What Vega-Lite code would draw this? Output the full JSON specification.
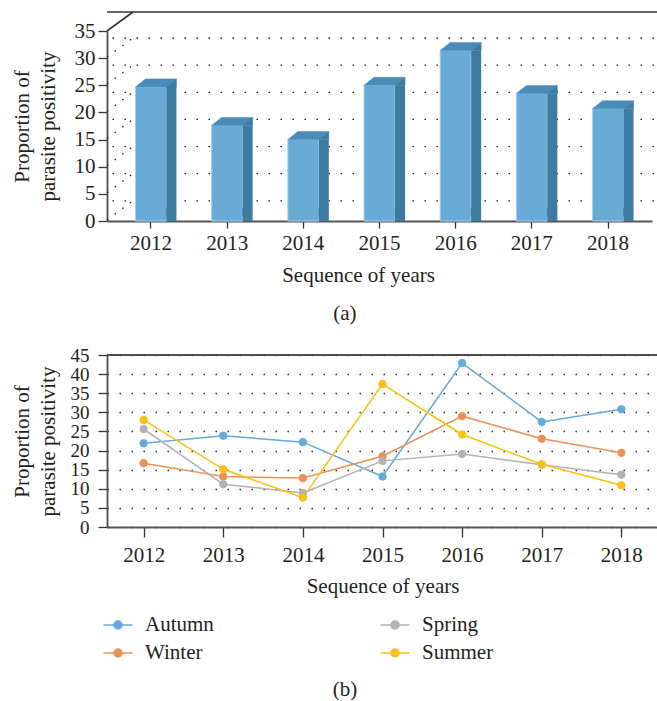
{
  "$schema": "https://vega.github.io/schema/vega-lite/v6.json",
  "padding": {"left": 11, "top": 8, "right": 0, "bottom": 0},
  "title": {"text": "(b)", "orient": "bottom", "frame": "bounds", "anchor": "middle", "offset": 16, "font": "Liberation Serif", "fontSize": 21, "fontWeight": "normal", "color": "#231f20"},
  "datasets": {
    "bars": [
      {"year": "2012", "value": 24.7},
      {"year": "2013", "value": 17.6},
      {"year": "2014", "value": 15.0},
      {"year": "2015", "value": 25.0},
      {"year": "2016", "value": 31.4},
      {"year": "2017", "value": 23.5},
      {"year": "2018", "value": 20.7}
    ],
    "grid": [{"value": 5}, {"value": 10}, {"value": 15}, {"value": 20}, {"value": 25}, {"value": 30}, {"value": 35}],
    "frame": [{"year": "2012", "value": 35}],
    "floor": [
      {"year": "2012", "value": 0}, {"year": "2013", "value": 0}, {"year": "2014", "value": 0},
      {"year": "2015", "value": 0}, {"year": "2016", "value": 0}, {"year": "2017", "value": 0}, {"year": "2018", "value": 0}
    ],
    "border": [{"value": 45}],
    "lines": [
      {"year": "2012", "season": "Autumn", "value": 21.9},
      {"year": "2013", "season": "Autumn", "value": 23.9},
      {"year": "2014", "season": "Autumn", "value": 22.2},
      {"year": "2015", "season": "Autumn", "value": 13.2},
      {"year": "2016", "season": "Autumn", "value": 42.9},
      {"year": "2017", "season": "Autumn", "value": 27.5},
      {"year": "2018", "season": "Autumn", "value": 30.8},
      {"year": "2012", "season": "Winter", "value": 16.7},
      {"year": "2013", "season": "Winter", "value": 13.2},
      {"year": "2014", "season": "Winter", "value": 12.8},
      {"year": "2015", "season": "Winter", "value": 18.5},
      {"year": "2016", "season": "Winter", "value": 29.0},
      {"year": "2017", "season": "Winter", "value": 23.1},
      {"year": "2018", "season": "Winter", "value": 19.4},
      {"year": "2012", "season": "Spring", "value": 25.6},
      {"year": "2013", "season": "Spring", "value": 11.2},
      {"year": "2014", "season": "Spring", "value": 8.9},
      {"year": "2015", "season": "Spring", "value": 17.3},
      {"year": "2016", "season": "Spring", "value": 19.1},
      {"year": "2017", "season": "Spring", "value": 16.3},
      {"year": "2018", "season": "Spring", "value": 13.7},
      {"year": "2012", "season": "Summer", "value": 28.0},
      {"year": "2013", "season": "Summer", "value": 15.1},
      {"year": "2014", "season": "Summer", "value": 7.7},
      {"year": "2015", "season": "Summer", "value": 37.4},
      {"year": "2016", "season": "Summer", "value": 24.2},
      {"year": "2017", "season": "Summer", "value": 16.4},
      {"year": "2018", "season": "Summer", "value": 10.9}
    ]
  },
  "config": {
    "font": "Liberation Serif",
    "view": {"stroke": null},
    "axis": {
      "labelFont": "Liberation Serif",
      "titleFont": "Liberation Serif",
      "labelFontSize": 21,
      "titleFontSize": 21,
      "titleFontWeight": "normal",
      "labelColor": "#231f20",
      "titleColor": "#231f20",
      "domainColor": "#4d4d4d",
      "domainWidth": 1.8,
      "tickColor": "#333333",
      "tickWidth": 1.3,
      "labelOverlap": false
    },
    "legend": {
      "labelFont": "Liberation Serif",
      "labelFontSize": 21,
      "labelColor": "#231f20"
    },
    "title": {
      "font": "Liberation Serif",
      "fontSize": 21,
      "fontWeight": "normal",
      "color": "#231f20"
    }
  },
  "spacing": 22,
  "resolve": {
    "scale": {"fill": "independent", "stroke": "independent"},
    "legend": {"fill": "independent", "stroke": "independent"}
  },
  "vconcat": [
    {
      "width": 545,
      "height": 190,
      "title": {"text": "(a)", "orient": "bottom", "frame": "bounds", "anchor": "middle", "offset": 18},
      "layer": [
        {
          "data": {"name": "grid"},
          "mark": {"type": "rule", "strokeDash": [1.5, 10.5], "color": "#222222", "strokeWidth": 1.3, "xOffset": 26, "yOffset": 7},
          "encoding": {
            "y": {"field": "value", "type": "quantitative", "scale": {"domain": [0, 35], "nice": false},
              "axis": {"title": ["Proportion of", "parasite positivity"], "values": [0, 5, 10, 15, 20, 25, 30, 35], "tickSize": 9, "labelPadding": 3, "titlePadding": 16, "titleLineHeight": 26, "grid": false}}
          }
        },
        {
          "data": {"name": "grid"},
          "mark": {"type": "point", "shape": "M-44,26L-18,7", "size": 4, "filled": false, "stroke": "#222222", "strokeWidth": 1.3, "strokeDash": [1.5, 8], "opacity": 1},
          "encoding": {
            "x": {"datum": "2012", "type": "ordinal",
              "scale": {"domain": ["2012", "2013", "2014", "2015", "2016", "2017", "2018"], "paddingInner": 0, "paddingOuter": 0.077},
              "axis": {"title": "Sequence of years", "titleX": 251, "labelAngle": 0, "labelAlign": "center", "bandPosition": 0.5, "tickSize": 7, "labelPadding": 4, "titlePadding": 11, "domainColor": "#555555", "domainWidth": 2}},
            "y": {"field": "value", "type": "quantitative",
              "axis": {"title": ["Proportion of", "parasite positivity"], "values": [0, 5, 10, 15, 20, 25, 30, 35], "tickSize": 9, "labelPadding": 3, "titlePadding": 16, "titleLineHeight": 26, "grid": false}}
          }
        },
        {
          "data": {"name": "frame"},
          "mark": {"type": "rule", "color": "#333333", "strokeWidth": 1.6, "xOffset": 26, "yOffset": -19},
          "encoding": {
            "y": {"field": "value", "type": "quantitative",
              "axis": {"title": ["Proportion of", "parasite positivity"], "values": [0, 5, 10, 15, 20, 25, 30, 35], "tickSize": 9, "labelPadding": 3, "titlePadding": 16, "titleLineHeight": 26, "grid": false}}
          }
        },
        {
          "data": {"name": "frame"},
          "mark": {"type": "point", "shape": "M-44,0L-18,-19", "size": 4, "filled": false, "stroke": "#333333", "strokeWidth": 1.6, "opacity": 1},
          "encoding": {
            "x": {"field": "year", "type": "ordinal",
              "axis": {"title": "Sequence of years", "titleX": 251, "labelAngle": 0, "labelAlign": "center", "bandPosition": 0.5, "tickSize": 7, "labelPadding": 4, "titlePadding": 11, "domainColor": "#555555", "domainWidth": 2}},
            "y": {"field": "value", "type": "quantitative",
              "axis": {"title": ["Proportion of", "parasite positivity"], "values": [0, 5, 10, 15, 20, 25, 30, 35], "tickSize": 9, "labelPadding": 3, "titlePadding": 16, "titleLineHeight": 26, "grid": false}}
          }
        },
        {
          "data": {"name": "bars"},
          "mark": {"type": "bar", "width": 31, "color": "#69aad6", "stroke": "#a9d2ee", "strokeWidth": 1, "y2Offset": -5},
          "encoding": {
            "x": {"field": "year", "type": "ordinal",
              "axis": {"title": "Sequence of years", "titleX": 251, "labelAngle": 0, "labelAlign": "center", "bandPosition": 0.5, "tickSize": 7, "labelPadding": 4, "titlePadding": 11, "domainColor": "#555555", "domainWidth": 2}},
            "y": {"field": "value", "type": "quantitative",
              "axis": {"title": ["Proportion of", "parasite positivity"], "values": [0, 5, 10, 15, 20, 25, 30, 35], "tickSize": 9, "labelPadding": 3, "titlePadding": 16, "titleLineHeight": 26, "grid": false}}
          }
        },
        {
          "data": {"name": "bars"},
          "mark": {"type": "bar", "width": 10, "xOffset": 20.5, "color": "#3e7ba0", "y2Offset": -13},
          "encoding": {
            "x": {"field": "year", "type": "ordinal",
              "axis": {"title": "Sequence of years", "titleX": 251, "labelAngle": 0, "labelAlign": "center", "bandPosition": 0.5, "tickSize": 7, "labelPadding": 4, "titlePadding": 11, "domainColor": "#555555", "domainWidth": 2}},
            "y": {"field": "value", "type": "quantitative",
              "axis": {"title": ["Proportion of", "parasite positivity"], "values": [0, 5, 10, 15, 20, 25, 30, 35], "tickSize": 9, "labelPadding": 3, "titlePadding": 16, "titleLineHeight": 26, "grid": false}}
          }
        },
        {
          "data": {"name": "bars"},
          "mark": {"type": "point", "shape": "M-15.5,0L15.5,0L25.5,-8L-5.5,-8Z", "size": 4, "filled": true, "color": "#4a8cb9", "stroke": "#4a8cb9", "strokeWidth": 0.5, "opacity": 1},
          "encoding": {
            "x": {"field": "year", "type": "ordinal",
              "axis": {"title": "Sequence of years", "titleX": 251, "labelAngle": 0, "labelAlign": "center", "bandPosition": 0.5, "tickSize": 7, "labelPadding": 4, "titlePadding": 11, "domainColor": "#555555", "domainWidth": 2}},
            "y": {"field": "value", "type": "quantitative",
              "axis": {"title": ["Proportion of", "parasite positivity"], "values": [0, 5, 10, 15, 20, 25, 30, 35], "tickSize": 9, "labelPadding": 3, "titlePadding": 16, "titleLineHeight": 26, "grid": false}}
          }
        },
        {
          "data": {"name": "bars"},
          "mark": {"type": "point", "shape": "M15.5,0L25.5,-8L25.5,0Z", "size": 4, "filled": true, "color": "#3e7ba0", "stroke": "#3e7ba0", "strokeWidth": 0.5, "opacity": 1},
          "encoding": {
            "x": {"field": "year", "type": "ordinal",
              "axis": {"title": "Sequence of years", "titleX": 251, "labelAngle": 0, "labelAlign": "center", "bandPosition": 0.5, "tickSize": 7, "labelPadding": 4, "titlePadding": 11, "domainColor": "#555555", "domainWidth": 2}},
            "y": {"field": "value", "type": "quantitative",
              "axis": {"title": ["Proportion of", "parasite positivity"], "values": [0, 5, 10, 15, 20, 25, 30, 35], "tickSize": 9, "labelPadding": 3, "titlePadding": 16, "titleLineHeight": 26, "grid": false}}
          }
        },
        {
          "data": {"name": "floor"},
          "mark": {"type": "point", "shape": "M15.5,-8L15.5,0L25.5,-8Z", "size": 4, "filled": true, "color": "#3e7ba0", "stroke": "#3e7ba0", "strokeWidth": 0.5, "opacity": 1, "yOffset": -5},
          "encoding": {
            "x": {"field": "year", "type": "ordinal",
              "axis": {"title": "Sequence of years", "titleX": 251, "labelAngle": 0, "labelAlign": "center", "bandPosition": 0.5, "tickSize": 7, "labelPadding": 4, "titlePadding": 11, "domainColor": "#555555", "domainWidth": 2}},
            "y": {"field": "value", "type": "quantitative",
              "axis": {"title": ["Proportion of", "parasite positivity"], "values": [0, 5, 10, 15, 20, 25, 30, 35], "tickSize": 9, "labelPadding": 3, "titlePadding": 16, "titleLineHeight": 26, "grid": false}}
          }
        }
      ]
    },
    {
      "width": 551,
      "height": 172,
      "layer": [
        {
          "data": {"name": "lines"},
          "mark": {"type": "line", "strokeWidth": 1.5},
          "encoding": {
            "x": {"field": "year", "type": "ordinal",
              "scale": {"type": "point", "padding": 0.46},
              "axis": {"title": "Sequence of years", "labelAngle": 0, "labelAlign": "center", "tickSize": 10, "labelPadding": 7, "titlePadding": 10, "domainColor": "#555555", "domainWidth": 2}},
            "y": {"field": "value", "type": "quantitative",
              "scale": {"domain": [0, 45], "nice": false},
              "axis": {"title": ["Proportion of", "parasite positivity"], "values": [0, 5, 10, 15, 20, 25, 30, 35, 40, 45], "labelFontSize": 19, "tickSize": 9, "labelPadding": 9, "titlePadding": 12, "titleLineHeight": 26, "grid": true, "gridDash": [1.5, 10.5], "gridColor": "#333333", "gridWidth": 1.3}},
            "stroke": {"field": "season", "type": "nominal",
              "scale": {"domain": ["Autumn", "Spring", "Winter", "Summer"], "range": ["#64aadc", "#b2b2b6", "#ec9155", "#fac014"]},
              "legend": {"title": null, "orient": "bottom", "columns": 2, "columnPadding": 163, "rowPadding": 7, "symbolType": "M-1.45,0L1.45,0M-0.4,0A0.4,0.4,0,1,1,0.4,0A0.4,0.4,0,1,1,-0.4,0", "symbolSize": 400, "symbolStrokeWidth": 1.5, "labelOffset": 16, "offset": 18}}
          }
        },
        {
          "data": {"name": "lines"},
          "mark": {"type": "point", "filled": true, "size": 55, "opacity": 1, "strokeWidth": 1},
          "encoding": {
            "x": {"field": "year", "type": "ordinal",
              "axis": {"title": "Sequence of years", "labelAngle": 0, "labelAlign": "center", "tickSize": 10, "labelPadding": 7, "titlePadding": 10, "domainColor": "#555555", "domainWidth": 2}},
            "y": {"field": "value", "type": "quantitative",
              "axis": {"title": ["Proportion of", "parasite positivity"], "values": [0, 5, 10, 15, 20, 25, 30, 35, 40, 45], "labelFontSize": 19, "tickSize": 9, "labelPadding": 9, "titlePadding": 12, "titleLineHeight": 26, "grid": true, "gridDash": [1.5, 10.5], "gridColor": "#333333", "gridWidth": 1.3}},
            "fill": {"field": "season", "type": "nominal",
              "scale": {"domain": ["Autumn", "Spring", "Winter", "Summer"], "range": ["#64aadc", "#b2b2b6", "#ec9155", "#fac014"]},
              "legend": {"title": null, "orient": "bottom", "columns": 2, "columnPadding": 163, "rowPadding": 7, "symbolType": "M-1.45,0L1.45,0M-0.4,0A0.4,0.4,0,1,1,0.4,0A0.4,0.4,0,1,1,-0.4,0", "symbolSize": 400, "symbolStrokeWidth": 1.5, "labelOffset": 16, "offset": 18}},
            "stroke": {"field": "season", "type": "nominal",
              "legend": {"title": null, "orient": "bottom", "columns": 2, "columnPadding": 163, "rowPadding": 7, "symbolType": "M-1.45,0L1.45,0M-0.4,0A0.4,0.4,0,1,1,0.4,0A0.4,0.4,0,1,1,-0.4,0", "symbolSize": 400, "symbolStrokeWidth": 1.5, "labelOffset": 16, "offset": 18}}
          }
        },
        {
          "data": {"name": "border"},
          "mark": {"type": "rule", "color": "#4d4d4d", "strokeWidth": 1.8},
          "encoding": {
            "y": {"field": "value", "type": "quantitative",
              "axis": {"title": ["Proportion of", "parasite positivity"], "values": [0, 5, 10, 15, 20, 25, 30, 35, 40, 45], "labelFontSize": 19, "tickSize": 9, "labelPadding": 9, "titlePadding": 12, "titleLineHeight": 26, "grid": true, "gridDash": [1.5, 10.5], "gridColor": "#333333", "gridWidth": 1.3}}
          }
        }
      ]
    }
  ]
}
